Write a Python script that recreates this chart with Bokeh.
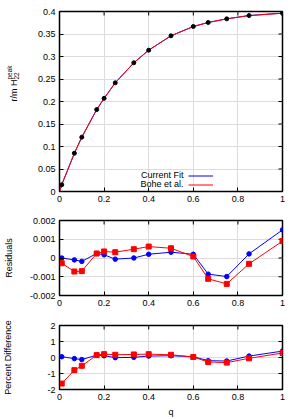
import math
from bokeh.plotting import figure
from bokeh.layouts import column, row
from bokeh.models import Range1d, FixedTicker, Label, Legend, LegendItem
from bokeh.embed import file_html
from bokeh.resources import INLINE

# ---------------- data ----------------
q = [0.01, 0.0667, 0.1, 0.1667, 0.2, 0.25, 0.3333, 0.4, 0.5, 0.6, 0.6667, 0.75, 0.85, 1.0]
peak_nr = [0.015, 0.085, 0.1207, 0.182, 0.207, 0.2415, 0.286, 0.314, 0.346, 0.3667,
           0.3756, 0.3837, 0.391, 0.396]

fit_q = [0.0, 0.01, 0.0667, 0.1, 0.1667, 0.2, 0.25, 0.3333, 0.4, 0.5, 0.6, 0.6667, 0.75, 0.85, 1.0]
fit_current = [0.0, 0.015, 0.085, 0.1207, 0.182, 0.207, 0.2415, 0.286, 0.314, 0.346, 0.3667,
               0.3756, 0.3837, 0.391, 0.3965]
fit_bohe = [0.0, 0.015, 0.085, 0.1207, 0.182, 0.207, 0.2415, 0.286, 0.314, 0.346, 0.3667,
            0.3756, 0.3837, 0.391, 0.396]

res_current = [0.0, -0.0001, -0.00018, 0.00024, 0.00017, -0.00006, 0.0, 0.0002, 0.00031,
               0.0002, -0.00086, -0.00099, 0.00022, 0.0015]
res_bohe = [-0.00028, -0.00072, -0.0007, 0.00024, 0.00035, 0.00031, 0.00047, 0.00061,
            0.00052, 0.00008, -0.00111, -0.00138, -0.00031, 0.0009]

pct_current = [0.05, -0.07, -0.13, 0.15, 0.11, -0.01, 0.01, 0.09, 0.11, 0.05, -0.2, -0.22,
               0.09, 0.4]
pct_bohe = [-1.63, -0.79, -0.52, 0.15, 0.21, 0.17, 0.19, 0.21, 0.17, 0.03, -0.28, -0.32,
            -0.05, 0.28]

x_ticks = [0, 0.2, 0.4, 0.6, 0.8, 1]
x_tick_labels = ["0", "0.2", "0.4", "0.6", "0.8", "1"]
top_ticks = [0, 0.05, 0.1, 0.15, 0.2, 0.25, 0.3, 0.35, 0.4]
top_tick_labels = ["0", "0.05", "0.1", "0.15", "0.2", "0.25", "0.3", "0.35", "0.4"]
res_ticks = [-0.002, -0.001, 0, 0.001, 0.002]
res_tick_labels = ["-0.002", "-0.001", "0", "0.001", "0.002"]
pct_ticks = [-2, -1, 0, 1, 2]
pct_tick_labels = ["-2", "-1", "0", "1", "2"]

FONT = "Liberation Sans"
FS = "9px"
BLUE = "#0000ff"
RED = "#ff0000"
W = 299
LABEL_W = 20   # narrow strip holding the stacked y title of the top panel


def make_fig(width, height, bleft, btop, bbottom, yr, yt, yl, ylab=None, ylab_standoff=0):
    p = figure(width=width, height=height, x_range=Range1d(0, 1), y_range=Range1d(*yr),
               output_backend="svg", toolbar_location=None,
               min_border=0,
               min_border_left=bleft, min_border_right=17,
               min_border_top=btop, min_border_bottom=bbottom)
    p.xaxis.ticker = FixedTicker(ticks=x_ticks, minor_ticks=[])
    p.xaxis.major_label_overrides = dict(zip(x_ticks, x_tick_labels))
    p.yaxis.ticker = FixedTicker(ticks=yt, minor_ticks=[])
    p.yaxis.major_label_overrides = dict(zip(yt, yl))
    for ax in p.axis:
        ax.major_tick_in = 4
        ax.major_tick_out = 0
        ax.major_tick_line_color = "black"
        ax.axis_line_color = "black"
        ax.axis_line_width = 1
        ax.major_label_text_font = FONT
        ax.major_label_text_font_size = FS
        ax.major_label_text_color = "black"
        ax.major_label_standoff = 4
    if ylab is not None:
        ya = p.left[0]
        ya.axis_label = ylab
        ya.axis_label_text_font = FONT
        ya.axis_label_text_font_size = FS
        ya.axis_label_text_font_style = "normal"
        ya.axis_label_text_color = "black"
        ya.axis_label_standoff = ylab_standoff
    p.xgrid.ticker = FixedTicker(ticks=x_ticks, minor_ticks=[])
    p.ygrid.ticker = FixedTicker(ticks=yt, minor_ticks=[])
    p.grid.grid_line_color = "#dcdcdc"
    p.grid.grid_line_width = 1
    p.outline_line_color = "black"
    p.outline_line_width = 1.5
    p.background_fill_color = "white"
    p.border_fill_color = "white"
    # mirrored inward ticks on the top and right edges (clipped half-dashes)
    p.scatter(x_ticks, [yr[1]] * len(x_ticks), marker="dash", angle=math.pi / 2,
              size=8, line_color="black", line_width=1)
    p.scatter([1] * len(yt), yt, marker="dash", size=8, line_color="black", line_width=1)
    return p


def text_label(p, text, x, y, size=FS, align="center", angle=0.0, units="data"):
    p.add_layout(Label(x=x, y=y, x_units=units, y_units=units, text=text, angle=angle,
                       text_align=align, text_baseline="middle", text_font=FONT,
                       text_font_size=size, text_color="black"))


# ---------------- top panel ----------------
TOP_H = 210
p1 = make_fig(W - LABEL_W, TOP_H, 59 - LABEL_W, 11, 19, (0, 0.4), top_ticks, top_tick_labels)
l_cur = p1.line(fit_q, fit_current, line_color=BLUE, line_width=1)
l_bohe = p1.line(fit_q, fit_bohe, line_color=RED, line_width=1)
p1.scatter(q, peak_nr, marker="circle", size=4, fill_color="black", line_color="black")

leg = Legend(items=[LegendItem(label="", renderers=[l_cur]),
                    LegendItem(label="", renderers=[l_bohe])],
             location=(129, 2.5), orientation="vertical", padding=0, margin=0, spacing=0,
             glyph_width=25, glyph_height=9, label_width=0, label_height=9,
             label_standoff=0, background_fill_alpha=0, border_line_alpha=0)
p1.add_layout(leg, "center")
text_label(p1, "Current Fit", 0.556, 0.0356, align="right")
text_label(p1, "Bohe et al.", 0.556, 0.0156, align="right")

# stacked y title  r/m H^peak_22  drawn in a narrow strip left of the top panel
lab = figure(width=LABEL_W, height=TOP_H, x_range=Range1d(0, LABEL_W),
             y_range=Range1d(0, TOP_H), output_backend="svg", toolbar_location=None,
             x_axis_type=None, y_axis_type=None, min_border=0)
lab.grid.visible = False
lab.outline_line_color = None
lab.background_fill_color = "white"
lab.border_fill_color = "white"
text_label(lab, "r/m H", 13.5, TOP_H - 120, align="left", angle=math.pi / 2, units="screen")
text_label(lab, "22", 15.8, TOP_H - 98, size="6.5px", align="left", angle=math.pi / 2,
           units="screen")
text_label(lab, "peak", 9.2, TOP_H - 98, size="6.5px", align="left", angle=math.pi / 2,
           units="screen")

# ---------------- residuals panel ----------------
p2 = make_fig(W, 102, 59, 10, 17, (-0.002, 0.002), res_ticks, res_tick_labels,
              "Residuals", 13)
p2.line(q, res_current, line_color=BLUE, line_width=1)
p2.scatter(q, res_current, marker="circle", size=4.5, fill_color=BLUE, line_color=BLUE)
p2.line(q, res_bohe, line_color=RED, line_width=1)
p2.scatter(q, res_bohe, marker="square", size=5, fill_color=RED, line_color=RED)

# ---------------- percent difference panel ----------------
p3 = make_fig(W, 107, 59, 13, 29, (-2, 2), pct_ticks, pct_tick_labels,
              "Percent Difference", 31)
p3.line(q, pct_current, line_color=BLUE, line_width=1)
p3.scatter(q, pct_current, marker="circle", size=4.5, fill_color=BLUE, line_color=BLUE)
p3.line(q, pct_bohe, line_color=RED, line_width=1)
p3.scatter(q, pct_bohe, marker="square", size=5, fill_color=RED, line_color=RED)
xb = p3.below[0]
xb.axis_label = "q"
xb.axis_label_text_font = FONT
xb.axis_label_text_font_size = FS
xb.axis_label_text_font_style = "normal"
xb.axis_label_text_color = "black"
xb.axis_label_standoff = 4

layout = column(row(lab, p1, spacing=0), p2, p3, spacing=0)
open("out.html", "w").write(file_html(layout, INLINE))
